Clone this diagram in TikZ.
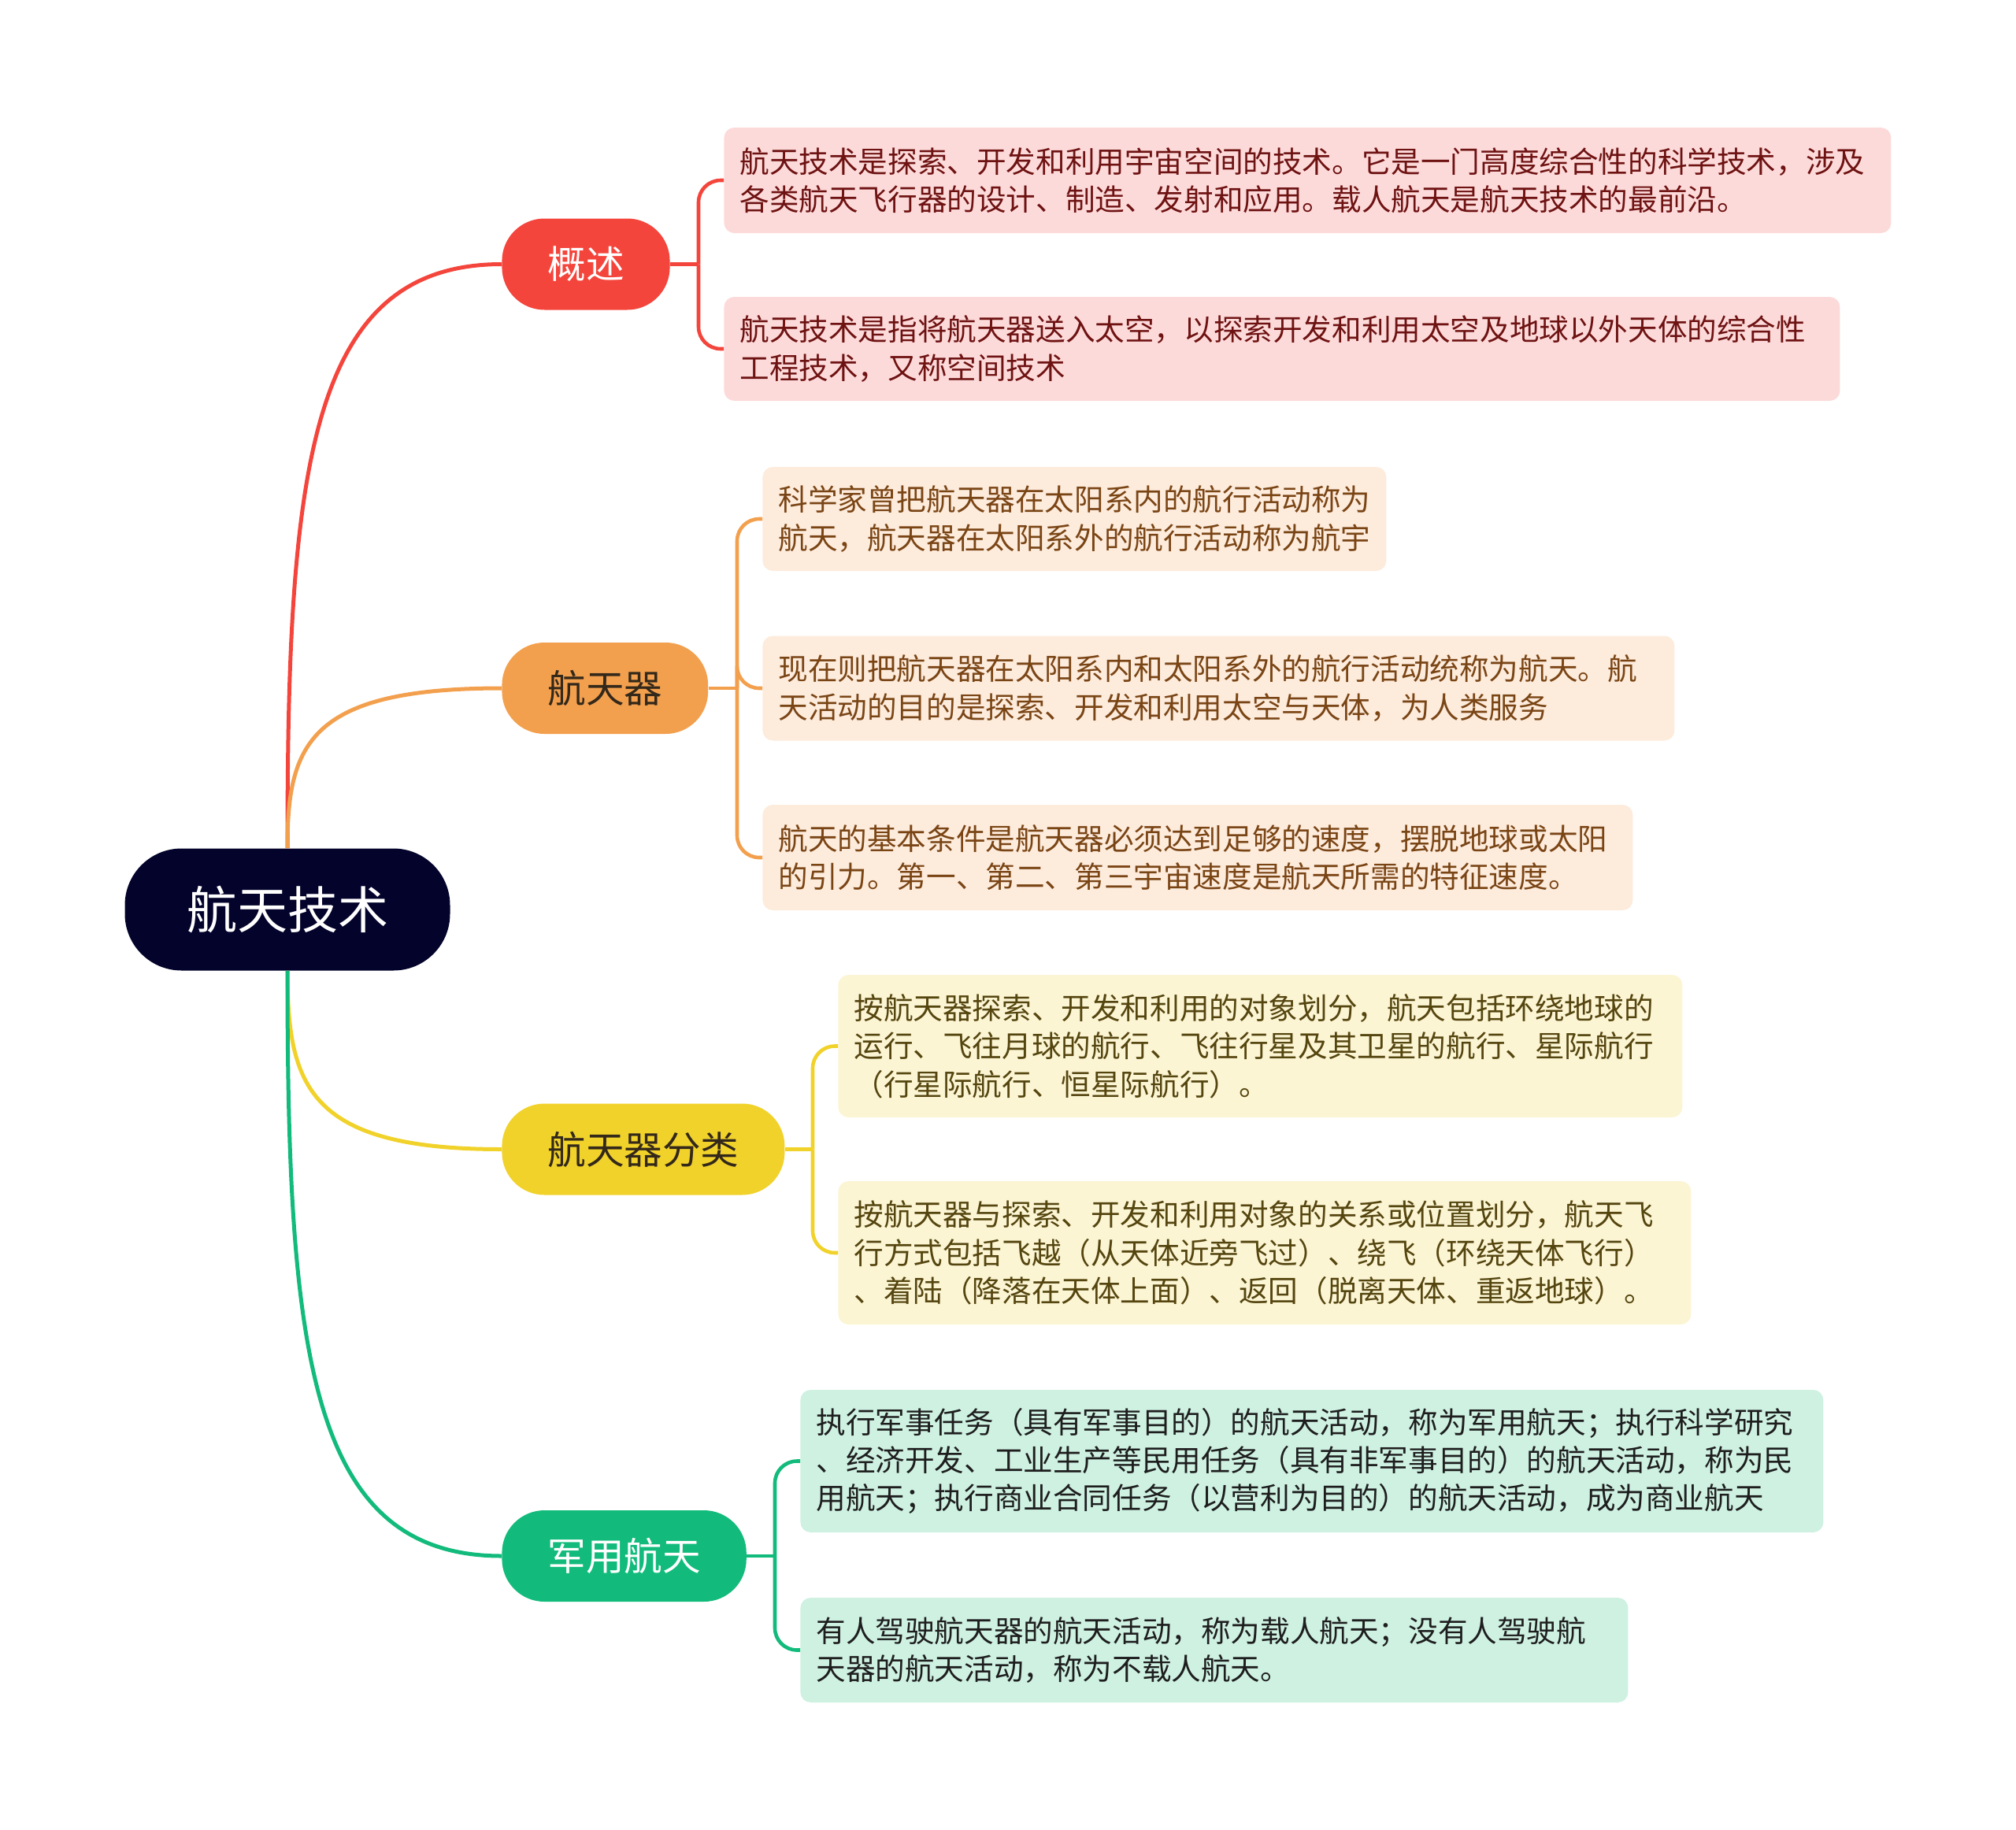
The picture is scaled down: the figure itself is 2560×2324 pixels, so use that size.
\documentclass[tikz,border=0pt]{standalone}
\usepackage{fontspec}
\setmainfont{Noto Sans CJK SC}
\usetikzlibrary{calc}

\definecolor{rootC}{HTML}{03032B}
\definecolor{redC}{HTML}{F4453C}
\definecolor{orangeC}{HTML}{F3A04E}
\definecolor{yellowC}{HTML}{F1D22A}
\definecolor{greenC}{HTML}{12BB7C}
\definecolor{redL}{HTML}{FDDADA}
\definecolor{orangeL}{HTML}{FDEBDC}
\definecolor{yellowL}{HTML}{FBF5D4}
\definecolor{greenL}{HTML}{CEF1E2}
\definecolor{redT}{HTML}{6E1212}
\definecolor{orangeT}{HTML}{7A4515}
\definecolor{yellowT}{HTML}{55450F}
\definecolor{greenT}{HTML}{1E1E1E}
\definecolor{darkT}{HTML}{33281A}

\tikzset{
    rootbox/.style={fill=rootC, text=white, rounded corners=36pt, minimum width=206.5pt,
        minimum height=77.5pt, inner sep=0pt, font=\fontsize{32}{38}\selectfont},
    branch/.style={rounded corners=27pt, minimum height=58pt, inner xsep=29pt, inner ysep=0pt,
        anchor=west, font=\fontsize{24.3}{29}\selectfont},
    leaf/.style={rounded corners=6.5pt, anchor=west, align=left, inner xsep=10pt, inner ysep=0pt,
        font=\fontsize{18.8}{24.2}\selectfont},
    limb/.style={line width=2.5pt},
    twig/.style={line width=2.3pt}
}

\begin{document}
\begin{tikzpicture}[x=0.5pt, y=-0.5pt]
    \useasboundingbox (0,0) rectangle (2560,2324);

    \node[rootbox] (root) at (365,1155) {航天技术};

    \node[branch, fill=redC, text=white] (b1) at (637,335.5) {概述};
    \node[branch, fill=orangeC, text=darkT] (b2) at (637,874) {航天器};
    \node[branch, fill=yellowC, text=darkT] (b3) at (637,1459.5) {航天器分类};
    \node[branch, fill=greenC, text=white] (b4) at (637,1976) {军用航天};

    \node[leaf, fill=redL, text=redT, text width=721pt, minimum height=67pt] (l1a) at (919,229)
        {航天技术是探索、开发和利用宇宙空间的技术。它是一门高度综合性的科学技术，涉及\\各类航天飞行器的设计、制造、发射和应用。载人航天是航天技术的最前沿。};
    \node[leaf, fill=redL, text=redT, text width=688.5pt, minimum height=66pt] (l1b) at (919,443)
        {航天技术是指将航天器送入太空，以探索开发和利用太空及地球以外天体的综合性\\工程技术，又称空间技术};
    \node[leaf, fill=orangeL, text=orangeT, text width=376pt, minimum height=66pt] (l2a) at (968,659)
        {科学家曾把航天器在太阳系内的航行活动称为\\航天，航天器在太阳系外的航行活动称为航宇};
    \node[leaf, fill=orangeL, text=orangeT, text width=559pt, minimum height=66.5pt] (l2b) at (968,874)
        {现在则把航天器在太阳系内和太阳系外的航行活动统称为航天。航\\天活动的目的是探索、开发和利用太空与天体，为人类服务};
    \node[leaf, fill=orangeL, text=orangeT, text width=532.5pt, minimum height=67pt] (l2c) at (968,1089)
        {航天的基本条件是航天器必须达到足够的速度，摆脱地球或太阳\\的引力。第一、第二、第三宇宙速度是航天所需的特征速度。};
    \node[leaf, fill=yellowL, text=yellowT, text width=516pt, minimum height=90.5pt] (l3a) at (1064,1328.5)
        {按航天器探索、开发和利用的对象划分，航天包括环绕地球的\\运行、飞往月球的航行、飞往行星及其卫星的航行、星际航行\\（行星际航行、恒星际航行）。};
    \node[leaf, fill=yellowL, text=yellowT, text width=521.5pt, minimum height=91pt] (l3b) at (1064,1591)
        {按航天器与探索、开发和利用对象的关系或位置划分，航天飞\\行方式包括飞越（从天体近旁飞过）、绕飞（环绕天体飞行）\\、着陆（降落在天体上面）、返回（脱离天体、重返地球）。};
    \node[leaf, fill=greenL, text=greenT, text width=629.5pt, minimum height=90.5pt] (l4a) at (1016,1855.5)
        {执行军事任务（具有军事目的）的航天活动，称为军用航天；执行科学研究\\、经济开发、工业生产等民用任务（具有非军事目的）的航天活动，称为民\\用航天；执行商业合同任务（以营利为目的）的航天活动，成为商业航天};
    \node[leaf, fill=greenL, text=greenT, text width=505.5pt, minimum height=66.5pt] (l4b) at (1016,2095.5)
        {有人驾驶航天器的航天活动，称为载人航天；没有人驾驶航\\天器的航天活动，称为不载人航天。};

    \foreach \b/\c/\a in {b1/redC/north, b2/orangeC/north, b3/yellowC/south, b4/greenC/south}
        \draw[limb, \c] (root.\a) .. controls ($(root.\a)!0.65!(root.\a|-\b.west)$)
            and ($(\b.west)!0.9!(\b.west-|root.\a)$) .. (\b.west);

    \foreach \b/\l/\c in {b1/l1a/redC, b1/l1b/redC, b2/l2a/orangeC, b2/l2b/orangeC, b2/l2c/orangeC,
                          b3/l3a/yellowC, b3/l3b/yellowC, b4/l4a/greenC, b4/l4b/greenC} {
        \coordinate (sp) at ([xshift=-16pt]\l.west |- \b.east);
        \draw[twig, \c] (\b.east) -- (sp);
        \draw[twig, \c, rounded corners=14pt] (sp) |- (\l.west);
    }
\end{tikzpicture}
\end{document}
